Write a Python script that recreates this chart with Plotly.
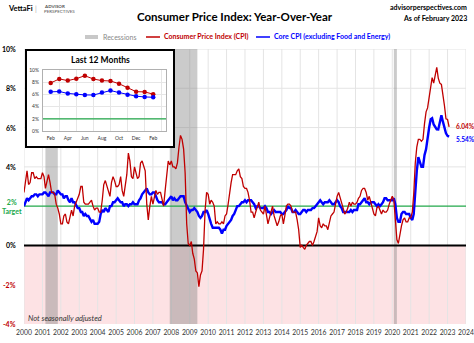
import plotly.graph_objects as go
import pandas as pd

# ---------------- data ----------------
START = "2000-01-01"
cpi = [
    2.7, 3.2, 3.8, 3.1, 3.2, 3.7, 3.7, 3.4, 3.5, 3.4, 3.4, 3.4,   # 2000
    3.7, 3.5, 2.9, 3.3, 3.6, 3.2, 2.7, 2.7, 2.6, 2.1, 1.9, 1.6,   # 2001
    1.1, 1.1, 1.5, 1.6, 1.2, 1.1, 1.5, 1.8, 1.5, 2.0, 2.2, 2.4,   # 2002
    2.6, 3.0, 3.0, 2.2, 2.1, 2.1, 2.1, 2.2, 2.3, 2.0, 1.8, 1.9,   # 2003
    1.9, 1.7, 1.7, 2.3, 3.1, 3.3, 3.0, 2.7, 2.5, 3.2, 3.5, 3.3,   # 2004
    3.0, 3.0, 3.1, 3.5, 2.8, 2.5, 3.2, 3.6, 4.7, 4.3, 3.5, 3.4,   # 2005
    4.0, 3.6, 3.4, 3.5, 4.2, 4.3, 4.1, 3.8, 2.1, 1.3, 2.0, 2.5,   # 2006
    2.1, 2.4, 2.8, 2.6, 2.7, 2.7, 2.4, 2.0, 2.8, 3.5, 4.3, 4.1,   # 2007
    4.3, 4.0, 4.0, 3.9, 4.2, 5.0, 5.6, 5.4, 4.9, 3.7, 1.1, 0.1,   # 2008
    0.0, 0.2, -0.4, -0.7, -1.3, -1.4, -2.1, -1.5, -1.3, -0.2, 1.8, 2.7,  # 2009
    2.6, 2.1, 2.3, 2.2, 2.0, 1.1, 1.2, 1.1, 1.1, 1.2, 1.1, 1.5,   # 2010
    1.6, 2.1, 2.7, 3.2, 3.6, 3.6, 3.6, 3.8, 3.9, 3.5, 3.4, 3.0,   # 2011
    2.9, 2.9, 2.7, 2.3, 1.7, 1.7, 1.4, 1.7, 2.0, 2.2, 1.8, 1.7,   # 2012
    1.6, 2.0, 1.5, 1.1, 1.4, 1.8, 2.0, 1.5, 1.2, 1.0, 1.2, 1.5,   # 2013
    1.6, 1.1, 1.5, 2.0, 2.1, 2.1, 2.0, 1.7, 1.7, 1.7, 1.3, 0.8,   # 2014
    -0.1, 0.0, -0.1, -0.2, 0.0, 0.1, 0.2, 0.2, 0.0, 0.2, 0.5, 0.7,  # 2015
    1.4, 1.0, 0.9, 1.1, 1.0, 1.0, 0.8, 1.1, 1.5, 1.6, 1.7, 2.1,   # 2016
    2.5, 2.7, 2.4, 2.2, 1.9, 1.6, 1.7, 1.9, 2.2, 2.0, 2.2, 2.1,   # 2017
    2.1, 2.2, 2.4, 2.5, 2.8, 2.9, 2.9, 2.7, 2.3, 2.5, 2.2, 1.9,   # 2018
    1.6, 1.5, 1.9, 2.0, 1.8, 1.6, 1.8, 1.7, 1.7, 1.8, 2.1, 2.3,   # 2019
    2.5, 2.3, 1.5, 0.3, 0.1, 0.6, 1.0, 1.3, 1.4, 1.2, 1.2, 1.4,   # 2020
    1.4, 1.7, 2.6, 4.2, 5.0, 5.4, 5.4, 5.3, 5.4, 6.2, 6.8, 7.0,   # 2021
    7.5, 7.87, 8.54, 8.26, 8.58, 9.06, 8.52, 8.26, 8.20, 7.75, 7.11, 6.45,  # 2022
    6.41, 6.04,                                                    # 2023
]
core = [
    2.0, 2.2, 2.4, 2.3, 2.4, 2.5, 2.5, 2.6, 2.6, 2.5, 2.6, 2.6,   # 2000
    2.6, 2.7, 2.7, 2.6, 2.5, 2.7, 2.7, 2.7, 2.6, 2.6, 2.8, 2.7,   # 2001
    2.6, 2.6, 2.4, 2.5, 2.5, 2.3, 2.2, 2.4, 2.2, 2.2, 2.0, 1.9,   # 2002
    1.9, 1.7, 1.7, 1.5, 1.6, 1.5, 1.5, 1.3, 1.2, 1.3, 1.1, 1.1,   # 2003
    1.1, 1.2, 1.6, 1.8, 1.7, 1.9, 1.8, 1.7, 2.0, 2.0, 2.2, 2.2,   # 2004
    2.3, 2.4, 2.3, 2.2, 2.2, 2.0, 2.1, 2.1, 2.0, 2.1, 2.1, 2.2,   # 2005
    2.1, 2.1, 2.1, 2.3, 2.4, 2.6, 2.7, 2.8, 2.9, 2.7, 2.6, 2.6,   # 2006
    2.7, 2.7, 2.5, 2.3, 2.2, 2.2, 2.2, 2.1, 2.1, 2.2, 2.3, 2.4,   # 2007
    2.5, 2.3, 2.4, 2.3, 2.3, 2.4, 2.5, 2.5, 2.5, 2.2, 2.0, 1.8,   # 2008
    1.7, 1.8, 1.8, 1.9, 1.8, 1.7, 1.5, 1.4, 1.5, 1.7, 1.7, 1.8,   # 2009
    1.6, 1.3, 1.1, 0.9, 0.9, 0.9, 0.9, 0.9, 0.8, 0.6, 0.8, 0.8,   # 2010
    1.0, 1.1, 1.2, 1.3, 1.5, 1.6, 1.8, 2.0, 2.0, 2.1, 2.2, 2.2,   # 2011
    2.3, 2.2, 2.3, 2.3, 2.3, 2.2, 2.1, 1.9, 2.0, 2.0, 1.9, 1.9,   # 2012
    1.9, 2.0, 1.9, 1.7, 1.7, 1.6, 1.7, 1.8, 1.7, 1.7, 1.7, 1.7,   # 2013
    1.6, 1.6, 1.7, 1.8, 2.0, 1.9, 1.9, 1.7, 1.7, 1.8, 1.7, 1.6,   # 2014
    1.6, 1.7, 1.8, 1.8, 1.7, 1.8, 1.8, 1.8, 1.9, 1.9, 2.0, 2.1,   # 2015
    2.2, 2.3, 2.2, 2.1, 2.2, 2.2, 2.2, 2.3, 2.2, 2.1, 2.1, 2.2,   # 2016
    2.3, 2.2, 2.0, 1.9, 1.7, 1.7, 1.7, 1.7, 1.7, 1.8, 1.7, 1.8,   # 2017
    1.8, 1.8, 2.1, 2.1, 2.2, 2.3, 2.4, 2.2, 2.2, 2.1, 2.2, 2.2,   # 2018
    2.2, 2.1, 2.0, 2.1, 2.0, 2.1, 2.2, 2.4, 2.4, 2.3, 2.3, 2.3,   # 2019
    2.3, 2.4, 2.1, 1.4, 1.2, 1.2, 1.6, 1.7, 1.7, 1.6, 1.6, 1.6,   # 2020
    1.4, 1.3, 1.6, 3.0, 3.8, 4.5, 4.3, 4.0, 4.0, 4.6, 4.9, 5.5,   # 2021
    6.0, 6.42, 6.47, 6.16, 6.02, 5.91, 5.90, 6.32, 6.63, 6.30, 5.96, 5.71,  # 2022
    5.58, 5.54,                                                    # 2023
]
inset_months = ["Feb", "Mar", "Apr", "May", "Jun", "Jul", "Aug", "Sep", "Oct", "Nov", "Dec", "Jan", "Feb"]
cpi_12 = [7.87, 8.54, 8.26, 8.58, 9.06, 8.52, 8.26, 8.20, 7.75, 7.11, 6.45, 6.41, 6.04]
core_12 = [6.42, 6.47, 6.16, 6.02, 5.91, 5.90, 6.32, 6.63, 6.30, 5.96, 5.71, 5.58, 5.54]
recessions = [("2001-03-01", "2001-11-01"), ("2007-12-01", "2009-06-01"), ("2020-02-01", "2020-04-01")]
TARGET = 2
years = list(range(2000, 2025))
main_grid_y = [4, 6, 8, 10]
y_labels = [10, 8, 6, 4, 0, -2, -4]
inset_ticks = [0, 2, 4, 6, 8, 10]

# ---------------- layout helpers ----------------
W, H = 474, 343
ML, MR, MT, MB = 24, 8, 49, 19
PW, PH = W - ML - MR, H - MT - MB
def px(x):
    return (x - ML) / PW
def py(y):
    return (H - MB - y) / PH

RED = "#c00000"
BLUE = "#0000ff"
GREEN = "#22a84a"
FONT = "Lato"

dates = pd.date_range(START, periods=len(cpi), freq="MS")
inset_x = list(range(len(cpi_12)))

fig = go.Figure()
fig.add_trace(go.Scatter(x=dates, y=core, mode="lines", line=dict(color=BLUE, width=2.4),
                         showlegend=False, xaxis="x", yaxis="y"))
fig.add_trace(go.Scatter(x=dates, y=cpi, mode="lines", line=dict(color=RED, width=1.3),
                         showlegend=False, xaxis="x", yaxis="y"))
# inset
fig.add_trace(go.Scatter(x=inset_x, y=cpi_12, mode="lines+markers",
                         line=dict(color=RED, width=1), marker=dict(color=RED, size=4.5),
                         showlegend=False, xaxis="x2", yaxis="y2"))
fig.add_trace(go.Scatter(x=inset_x, y=core_12, mode="lines+markers",
                         line=dict(color=BLUE, width=1), marker=dict(color=BLUE, size=4.5),
                         showlegend=False, xaxis="x2", yaxis="y2"))

shapes = []
# pink negative region
shapes.append(dict(type="rect", xref="paper", yref="y", x0=0, x1=1, y0=-4, y1=0,
                   fillcolor="#fde2e4", line=dict(width=0), layer="below"))
# gridlines
for yr in years:
    shapes.append(dict(type="line", xref="x", yref="paper", x0=f"{yr}-01-01", x1=f"{yr}-01-01",
                       y0=0, y1=1, line=dict(color="#e4e4e4", width=1), layer="below"))
for g in main_grid_y:
    shapes.append(dict(type="line", xref="paper", yref="y", x0=0, x1=1, y0=g, y1=g,
                       line=dict(color="#e4e4e4", width=1), layer="below"))
# recessions
for a, b in recessions:
    shapes.append(dict(type="rect", xref="x", yref="paper", x0=a, x1=b, y0=0, y1=1,
                       fillcolor="rgba(130,130,130,0.42)", line=dict(width=0), layer="below"))
# zero + target lines
shapes.append(dict(type="line", xref="paper", yref="y", x0=0, x1=1, y0=0, y1=0,
                   line=dict(color="black", width=2), layer="below"))
shapes.append(dict(type="line", xref="paper", yref="y", x0=0, x1=1, y0=TARGET, y1=TARGET,
                   line=dict(color=GREEN, width=1.3), layer="below"))
# inset box
shapes.append(dict(type="rect", xref="paper", yref="paper", x0=px(26), x1=px(174), y0=py(147), y1=py(50),
                   fillcolor="white", line=dict(color="black", width=2), layer="below"))
# inset target line
shapes.append(dict(type="line", xref="x2 domain", yref="y2", x0=0, x1=1, y0=TARGET, y1=TARGET,
                   line=dict(color=GREEN, width=1.3)))
# legend swatches
shapes.append(dict(type="rect", xref="paper", yref="paper", x0=px(85), x1=px(98), y0=py(39), y1=py(35),
                   fillcolor="#c8c8c8", line=dict(width=0), layer="below"))
shapes.append(dict(type="line", xref="paper", yref="paper", x0=px(146), x1=px(160), y0=py(37), y1=py(37),
                   line=dict(color=RED, width=1.5), layer="below"))
shapes.append(dict(type="line", xref="paper", yref="paper", x0=px(256), x1=px(270), y0=py(37), y1=py(37),
                   line=dict(color=BLUE, width=1.5), layer="below"))

ann = []
def text(x, y, s, size=7, color="black", bold=False, xanchor="center", yanchor="middle", italic=False):
    if bold:
        s = f"<b>{s}</b>"
    if italic:
        s = f"<i>{s}</i>"
    ann.append(dict(xref="paper", yref="paper", x=px(x), y=py(y), text=s, showarrow=False,
                    font=dict(family=FONT, size=size, color=color), xanchor=xanchor, yanchor=yanchor))

# header
text(6, 9, "VettaFi", size=7.5, bold=True, xanchor="left")
text(36, 9, "|", size=7, color="#aaaaaa")
text(42, 6, "ADVISOR", size=4.5, color="#555", bold=True, xanchor="left")
text(42, 11, "PERSPECTIVES", size=4.5, color="#555", xanchor="left")
text(235, 17, "Consumer Price Index: Year-Over-Year", size=11.5, bold=True)
text(469, 7, "advisorperspectives.com", size=7, bold=True, xanchor="right")
text(469, 18, "As of February 2023", size=7, bold=True, xanchor="right")
# legend
text(101, 37, "Recessions", size=7, color="#888888", xanchor="left")
text(162, 37, "Consumer Price Index (CPI)", size=7, color=RED, bold=True, xanchor="left")
text(272, 37, "Core CPI (excluding Food and Energy)", size=7, color=BLUE, bold=True, xanchor="left")
# inset title
text(100, 60, "Last 12 Months", size=8.5, bold=True)
# note
text(26, 318, "Not seasonally adjusted", size=7.5, color="#333333", italic=True, xanchor="left")

# y-axis labels
for v in y_labels:
    col = RED if v < 0 else "black"
    ann.append(dict(xref="paper", yref="y", x=px(18), y=v, text=f"<b>{v}%</b>", showarrow=False,
                    font=dict(family=FONT, size=7, color=col), xanchor="right", yanchor="middle"))
ann.append(dict(xref="paper", yref="y", x=px(12), y=TARGET, text=f"<b>{TARGET}%<br>Target</b>", showarrow=False,
                font=dict(family=FONT, size=7, color=GREEN), xanchor="center", yanchor="middle"))
# end labels
ann.append(dict(xref="x", yref="y", x=dates[-1], y=cpi[-1], text=f"<b>{cpi[-1]:.2f}%</b>", showarrow=False,
                font=dict(family=FONT, size=6.5, color=RED), xanchor="left", yanchor="middle", xshift=5))
ann.append(dict(xref="x", yref="y", x=dates[-1], y=core[-1], text=f"<b>{core[-1]:.2f}%</b>", showarrow=False,
                font=dict(family=FONT, size=6.5, color=BLUE), xanchor="left", yanchor="middle", xshift=5, yshift=-3))

fig.update_layout(
    width=W, height=H, margin=dict(l=ML, r=MR, t=MT, b=MB),
    paper_bgcolor="white", plot_bgcolor="white",
    font=dict(family=FONT, size=7, color="#333"),
    shapes=shapes, annotations=ann, showlegend=False,
    xaxis=dict(type="date", range=[f"{years[0]}-01-01", f"{years[-1]}-01-02"],
               tickvals=[f"{y}-01-01" for y in years], ticktext=[str(y) for y in years],
               showgrid=False, zeroline=False, showline=False, ticks="",
               ticklabeloverflow="allow", tickangle=0, automargin=False,
               tickfont=dict(family=FONT, size=6.8, color="#333"), ticklabelstandoff=3, domain=[0, 1]),
    yaxis=dict(range=[-4, 10], showgrid=False, zeroline=False, showticklabels=False, domain=[0, 1]),
    xaxis2=dict(domain=[px(43), px(166)], anchor="y2", range=[-0.9, 13.5],
                tickvals=inset_x[::2], ticktext=inset_months[::2],
                tickfont=dict(family=FONT, size=5, color="#333"),
                showgrid=False, zeroline=False, showline=True, mirror=True, linecolor="#b0b0b0",
                linewidth=1, ticks="", ticklabelstandoff=2,
                minor=dict(tick0=1, dtick=2, showgrid=True, gridcolor="#e6e6e6", ticks="")),
    yaxis2=dict(domain=[py(131), py(70)], anchor="x2", range=[0, 10],
                tickvals=inset_ticks, ticktext=[f"{v}%" for v in inset_ticks],
                tickfont=dict(family=FONT, size=5, color="#333"),
                showgrid=True, gridcolor="#e6e6e6", zeroline=False, showline=True, mirror=True,
                linecolor="#b0b0b0", linewidth=1, ticks="", ticklabelstandoff=2),
)

fig.write_html("out.html")
